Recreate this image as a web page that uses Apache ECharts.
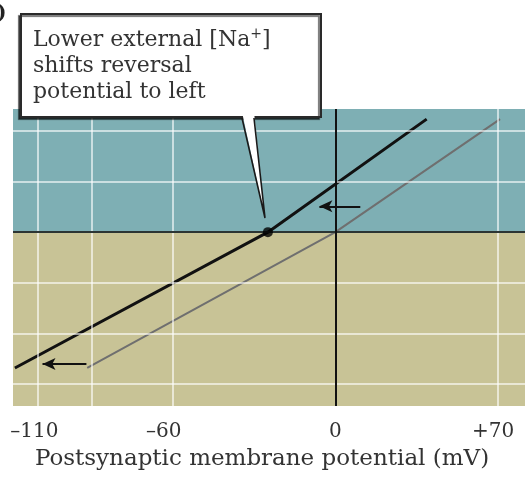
<!DOCTYPE html>
<html>
<head>
<meta charset="utf-8">
<script src="https://cdn.jsdelivr.net/npm/echarts@6/dist/echarts.min.js"></script>
<style>
    html, body { margin: 0; padding: 0; background: #fff; }
    #chart { width: 525px; height: 477px; }
</style>
</head>
<body>
<div id="chart"></div>
<script>
// membrane potential (mV) tick marks shown under the plot
let tickValues = [-110, -60, 0, 70];
let tickLabels = ['\u2013110', '\u201360', '0', '+70'];

// light grid lines (mV on x, arbitrary current units on y)
let vGridValues = [-110, -90, -60, 60];
let hGridValues = [2, 1, -1, -2, -3];

// control I-V relation (normal external Na+)
let controlV = [-91.6, 0, 60.8];
let controlI = [-2.68, 0, 2.23];

// lower external Na+
let lowNaV = [-118.3, -24.9, 33.7];
let lowNaI = [-2.68, 0, 2.23];

// reversal potential with lower Na+
let reversalLowNa = [-24.9, 0];

// arrows showing the shift to the left  [from, to]
let shiftArrows = [
    [[9.2, 0.51], [-5.9, 0.51]],
    [[-91.9, -2.6], [-108.1, -2.6]]
];

let xMin = -119, xMax = 70;
let yMin = -3.43, yMax = 2.43;

let serif = 'DejaVu Serif';

// the printed figure is not drawn to scale: nudge some tick labels left (px of right padding)
let labelNudge = {'-110': 6, '-60': 18, '70': 64};

function pairs(xs, ys) {
    let out = [];
    for (let i = 0; i < xs.length; i++) {
        out.push([xs[i], ys[i]]);
    }
    return out;
}

let eChart = echarts.init(document.getElementById('chart'));

let gridLines = [];
vGridValues.forEach(function (v) { gridLines.push({xAxis: v}); });
hGridValues.forEach(function (v) { gridLines.push({yAxis: v}); });

let arrowLines = shiftArrows.map(function (a) {
    return [{coord: a[0]}, {coord: a[1]}];
});

let tickRich = {};
Object.keys(labelNudge).forEach(function (k, i) {
    tickRich['n' + i] = {
        fontFamily: serif,
        fontSize: 20,
        color: '#333',
        padding: [0, labelNudge[k], 0, 0]
    };
});

let option = {
    animation: false,
    backgroundColor: '#ffffff',
    grid: {
        left: 13,
        right: -4,
        top: 109,
        bottom: 71
    },
    xAxis: {
        type: 'value',
        min: xMin,
        max: xMax,
        axisLine: {show: false},
        axisTick: {show: false},
        splitLine: {show: false},
        axisLabel: {
            customValues: tickValues,
            margin: 16,
            color: '#333',
            fontFamily: serif,
            fontSize: 20,
            formatter: function (val) {
                let idx = tickValues.indexOf(val);
                let txt = idx >= 0 ? tickLabels[idx] : '';
                let k = Object.keys(labelNudge).indexOf(String(val));
                if (k >= 0) {
                    return '{n' + k + '|' + txt + '}';
                }
                return txt;
            },
            rich: tickRich
        },
        name: 'Postsynaptic membrane potential (mV)',
        nameLocation: 'middle',
        nameGap: 42,
        nameTextStyle: {
            color: '#333',
            fontFamily: serif,
            fontSize: 23,
            padding: [0, 14, 0, 0]
        }
    },
    yAxis: {
        type: 'value',
        min: yMin,
        max: yMax,
        show: false
    },
    series: [
        {
            // background bands and light grid
            type: 'line',
            data: [],
            silent: true,
            markArea: {
                silent: true,
                data: [
                    [{yAxis: 0, itemStyle: {color: '#7eafb4'}}, {yAxis: yMax}],
                    [{yAxis: yMin, itemStyle: {color: '#c8c396'}}, {yAxis: 0}]
                ]
            },
            markLine: {
                silent: true,
                symbol: ['none', 'none'],
                label: {show: false},
                lineStyle: {
                    color: 'rgba(255,255,255,0.6)',
                    width: 2,
                    type: 'solid'
                },
                data: gridLines
            }
        },
        {
            // zero current / zero potential lines
            type: 'line',
            data: [],
            silent: true,
            markLine: {
                silent: true,
                symbol: ['none', 'none'],
                label: {show: false},
                data: [
                    {yAxis: 0, lineStyle: {color: '#2b3533', width: 2, type: 'solid'}},
                    {xAxis: 0, lineStyle: {color: '#111', width: 2, type: 'solid'}}
                ]
            }
        },
        {
            name: 'Control',
            type: 'line',
            data: pairs(controlV, controlI),
            showSymbol: false,
            lineStyle: {color: '#6f6f6f', width: 2}
        },
        {
            name: 'Lower external Na',
            type: 'line',
            data: pairs(lowNaV, lowNaI),
            showSymbol: false,
            lineStyle: {color: '#111', width: 3}
        },
        {
            type: 'scatter',
            data: [reversalLowNa],
            symbolSize: 10,
            itemStyle: {color: '#000'},
            z: 5
        },
        {
            type: 'line',
            data: [],
            markLine: {
                silent: true,
                symbol: ['none', 'arrow'],
                symbolSize: [9, 13],
                label: {show: false},
                lineStyle: {color: '#111', width: 2, type: 'solid'},
                data: arrowLines
            },
            z: 6
        }
    ],
    graphic: [
        {
            type: 'text',
            left: -3,
            top: 4,
            style: {
                text: ')',
                fill: '#222',
                font: 'bold 20px ' + serif
            }
        },
        {
            type: 'rect',
            shape: {x: 21, y: 14, width: 300, height: 103},
            style: {
                fill: '#fff',
                stroke: '#2a2a2a',
                lineWidth: 2,
                shadowColor: 'rgba(0,0,0,0.55)',
                shadowOffsetX: -2,
                shadowOffsetY: 2,
                shadowBlur: 1
            },
            z: 100
        },
        {
            type: 'polygon',
            shape: {points: [[242, 112], [254, 112], [265, 218]]},
            style: {fill: '#fff'},
            z: 101
        },
        {
            type: 'polyline',
            shape: {points: [[242, 118], [265, 218], [254, 118]]},
            style: {stroke: '#1a1a1a', lineWidth: 1.6, fill: null},
            z: 102
        },
        {
            type: 'text',
            x: 33,
            y: 27,
            style: {
                text: 'Lower external [Na{sup|+}]\nshifts reversal\npotential to left',
                font: '22px ' + serif,
                fill: '#333',
                lineHeight: 26,
                rich: {
                    sup: {
                        fontFamily: serif,
                        fontSize: 14,
                        fill: '#333',
                        padding: [0, 0, 11, 0]
                    }
                }
            },
            z: 103
        }
    ]
};

eChart.setOption(option);
</script>
</body>
</html>
